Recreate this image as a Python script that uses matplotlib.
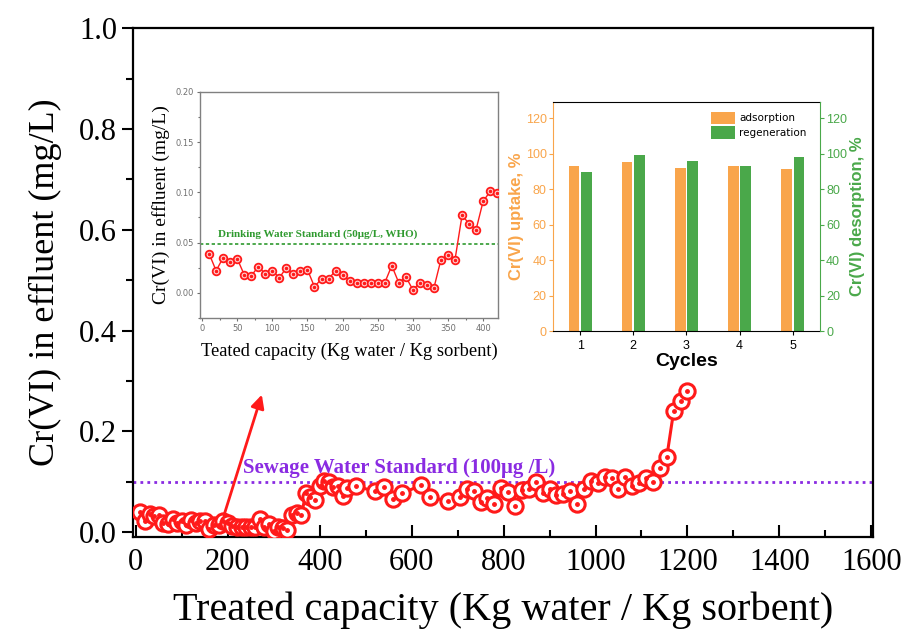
import matplotlib
matplotlib.use("Agg")
import matplotlib.pyplot as plt
import numpy as np
from matplotlib.ticker import MultipleLocator

# breakthrough data (inset covers the first 420 Kg/Kg)
cap_early = [10, 20, 30, 40, 50, 60, 70, 80, 90, 100, 110, 120, 130, 140, 150,
             160, 170, 180, 190, 200, 210, 220, 230, 240, 250, 260, 270, 280,
             290, 300, 310, 320, 330, 340, 350, 360, 370, 380, 390, 400, 410, 420]
cr_early = [0.039, 0.022, 0.035, 0.031, 0.034, 0.018, 0.017, 0.026, 0.019, 0.022,
            0.015, 0.025, 0.019, 0.022, 0.023, 0.006, 0.014, 0.014, 0.022, 0.018,
            0.012, 0.010, 0.010, 0.010, 0.010, 0.010, 0.027, 0.010, 0.016, 0.003,
            0.010, 0.008, 0.005, 0.033, 0.038, 0.033, 0.077, 0.069, 0.063, 0.091,
            0.101, 0.099]
cap_late = [430, 440, 450, 460, 480, 520, 540, 560, 580, 620, 640, 680, 705, 720,
            735, 750, 765, 780, 795, 810, 825, 840, 855, 870, 885, 900, 915, 930,
            945, 960, 975, 990, 1005, 1020, 1035, 1050, 1065, 1080, 1095, 1110,
            1125, 1140, 1155, 1170, 1185, 1200]
cr_late = [0.089, 0.091, 0.071, 0.087, 0.091, 0.081, 0.090, 0.065, 0.077, 0.093,
           0.069, 0.062, 0.070, 0.085, 0.082, 0.060, 0.067, 0.055, 0.088, 0.080,
           0.052, 0.083, 0.085, 0.100, 0.077, 0.085, 0.073, 0.075, 0.082, 0.056,
           0.085, 0.102, 0.098, 0.110, 0.107, 0.085, 0.110, 0.091, 0.097, 0.107,
           0.099, 0.128, 0.149, 0.240, 0.261, 0.281]

# regeneration cycles
cycles = [1, 2, 3, 4, 5]
adsorption = [93.1, 95.1, 91.7, 93.1, 91.4]
regeneration = [89.9, 99.1, 95.7, 93.1, 98.0]

RED = '#ff1a1a'
PURPLE = '#8a2be2'
GREEN_LINE = '#2f9a2f'
ORANGE = '#f9a54b'
GREEN_BAR = '#4aa84a'

cap_all = cap_early + cap_late
cr_all = cr_early + cr_late

fig = plt.figure(figsize=(9.11, 6.41), dpi=100)

# ---- main axes
ax = fig.add_axes([0.146, 0.162, 0.812, 0.794])
ax.plot(cap_all, cr_all, '-', color=RED, lw=2.2, zorder=2)
ax.plot(cap_all, cr_all, 'o', ms=11, mfc='white', mec=RED, mew=2.2, ls='none', zorder=3)
ax.plot(cap_all, cr_all, 'o', ms=2.5, color=RED, ls='none', zorder=4)
ax.axhline(0.1, color=PURPLE, ls=(0, (1, 1.5)), lw=2, zorder=1)
ax.text(233, 0.117, 'Sewage Water Standard (100\u03bcg /L)', color=PURPLE,
        fontsize=15, fontweight='bold', family='Liberation Serif', va='baseline')
ax.annotate('', xy=(276, 0.278), xytext=(190, 0.028),
            arrowprops=dict(arrowstyle='-|>', color=RED, lw=2, mutation_scale=20))

ax.set_xlim(-6, 1603)
ax.set_ylim(-0.01, 1.0)
ax.xaxis.set_major_locator(MultipleLocator(200))
ax.xaxis.set_minor_locator(MultipleLocator(100))
ax.yaxis.set_major_locator(MultipleLocator(0.2))
ax.yaxis.set_minor_locator(MultipleLocator(0.1))
ax.yaxis.set_major_formatter(plt.FormatStrFormatter('%.1f'))
ax.tick_params(axis='x', which='major', direction='in', length=9, width=1.5, pad=8)
ax.tick_params(axis='x', which='minor', direction='in', length=5, width=1.5)
ax.tick_params(axis='y', which='major', direction='out', length=8, width=1.5)
ax.tick_params(axis='y', which='minor', direction='out', length=5, width=1.5)
for lab in ax.get_xticklabels() + ax.get_yticklabels():
    lab.set_family('Liberation Serif')
    lab.set_fontsize(22)
for sp in ax.spines.values():
    sp.set_linewidth(1.6)
ax.set_xlabel('Treated capacity (Kg water / Kg sorbent)', family='Liberation Serif',
              fontsize=29, labelpad=10)
ax.set_ylabel('Cr(VI) in effluent (mg/L)', family='Liberation Serif',
              fontsize=26, labelpad=12)

# ---- inset: early breakthrough
ax1 = fig.add_axes([0.2195, 0.504, 0.327, 0.3526])
ax1.plot(cap_early, cr_early, '-', color=RED, lw=1, zorder=2)
ax1.plot(cap_early, cr_early, 'o', ms=5.5, mfc='#ffd0d0', mec=RED, mew=1.3, ls='none', zorder=3)
ax1.plot(cap_early, cr_early, 'o', ms=1.5, color=RED, ls='none', zorder=4)
ax1.axhline(0.049, color=GREEN_LINE, ls=(0, (2, 1.5)), lw=1.2, zorder=1)
ax1.text(23, 0.0557, 'Drinking Water Standard (50\u03bcg/L, WHO)', color=GREEN_LINE,
         fontsize=8, fontweight='bold', family='Liberation Serif', va='baseline')
ax1.set_xlim(-3, 421)
ax1.set_ylim(-0.025, 0.2)
ax1.xaxis.set_major_locator(MultipleLocator(50))
ax1.xaxis.set_minor_locator(MultipleLocator(25))
ax1.yaxis.set_major_locator(MultipleLocator(0.05))
ax1.yaxis.set_minor_locator(MultipleLocator(0.025))
ax1.yaxis.set_major_formatter(plt.FormatStrFormatter('%.2f'))
ax1.tick_params(which='both', direction='out', colors='#707070', labelsize=6,
                length=2.5, width=0.8, pad=2)
ax1.tick_params(which='minor', length=1.5)
for sp in ax1.spines.values():
    sp.set_color('#808080')
    sp.set_linewidth(1)
ax1.set_xlabel('Teated capacity (Kg water / Kg sorbent)', family='Liberation Serif',
               fontsize=13.3, labelpad=7)
ax1.set_ylabel('Cr(VI) in effluent (mg/L)', family='Liberation Serif',
               fontsize=14, labelpad=4)

# ---- inset: regeneration bars
ax2 = fig.add_axes([0.607, 0.4836, 0.293, 0.357])
x = np.array(cycles)
w = 0.2
ax2.bar(x - 0.115, adsorption, w, color=ORANGE, label='adsorption')
ax2.bar(x + 0.115, regeneration, w, color=GREEN_BAR, label='regeneration')
ax2.set_xlim(0.49, 5.51)
ax2.set_ylim(0, 129)
ax2.set_xticks(cycles)
ax2.yaxis.set_major_locator(MultipleLocator(20))
ax2.tick_params(axis='x', labelsize=9, length=3, width=0.8)
ax2.tick_params(axis='y', colors=ORANGE, labelsize=9, length=3, width=0.8, pad=1.5)
ax2.spines['left'].set_color(ORANGE)
ax2.spines['right'].set_visible(False)
ax2.set_xlabel('Cycles', family='Liberation Sans', fontsize=14, fontweight='bold',
               labelpad=1)
ax2.set_ylabel('Cr(VI) uptake, %', family='Liberation Sans', fontsize=12,
               fontweight='bold', color=ORANGE, labelpad=1)
ax2.legend(loc='upper right', frameon=False, fontsize=7.5, handlelength=2.3,
           handleheight=1.5, handletextpad=0.4, labelspacing=0.2,
           bbox_to_anchor=(0.985, 1.0))

ax3 = ax2.twinx()
ax3.set_ylim(0, 129)
ax3.yaxis.set_major_locator(MultipleLocator(20))
ax3.tick_params(axis='y', colors=GREEN_BAR, labelsize=9, length=3, width=0.8, pad=1.5)
for side in ['left', 'top', 'bottom']:
    ax3.spines[side].set_visible(False)
ax3.spines['right'].set_color(GREEN_BAR)
ax3.set_ylabel('Cr(VI) desorption, %', family='Liberation Sans', fontsize=12,
               fontweight='bold', color=GREEN_BAR, labelpad=2)

for lab in ax2.get_xticklabels() + ax2.get_yticklabels() + ax3.get_yticklabels():
    lab.set_family('Liberation Sans')

fig.savefig('out.png', dpi=100)
